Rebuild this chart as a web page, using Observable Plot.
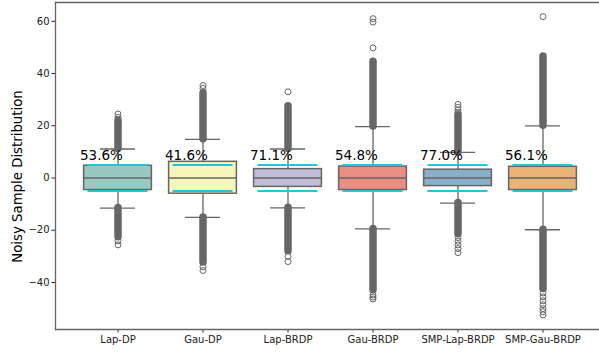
<!DOCTYPE html>
<html>
<head>
<meta charset="utf-8">
<script src="https://cdn.jsdelivr.net/npm/d3@7"></script>
<script src="https://cdn.jsdelivr.net/npm/@observablehq/plot@0.6"></script>
<style>
  html, body { margin: 0; padding: 0; background: #fff; overflow: hidden; }
</style>
</head>
<body>
<div id="chart"></div>
<script>
// Mechanisms compared
const mechanisms = ["Lap-DP", "Gau-DP", "Lap-BRDP", "Gau-BRDP", "SMP-Lap-BRDP", "SMP-Gau-BRDP"];
const boxColors = ["#96cac1", "#f6f6bc", "#c1bdd6", "#ea8e83", "#8aafc8", "#eab375"];

// Box summaries of the noisy samples
const q1 = [-4.6, -6.0, -3.4, -4.6, -3.1, -4.6];
const medians = [0, 0, 0, 0, 0, 0];
const q3 = [4.7, 6.2, 3.4, 4.4, 3.2, 4.3];
const whiskerLow = [-11.5, -15.1, -11.4, -19.5, -9.6, -19.8];
const whiskerHigh = [11.1, 14.8, 11.1, 19.7, 9.8, 20.0];

// Outliers packed so tightly that they form a continuous run, per side
const denseUpperEnd = [21.9, 32.5, 27.5, 44.5, 24.0, 46.5];
const denseLowerEnd = [-22.7, -32.3, -28.0, -43.0, -21.5, -42.5];

// Isolated outliers beyond those runs
const sparseOutliers = [
  [23.2, 24.5, -24.0, -25.6],
  [34.3, 35.4, -34.0, -35.4],
  [33.0, -30.0, -32.0],
  [49.8, 59.7, 61.0, -44.8, -45.6, -46.3],
  [25.0, 26.0, 27.1, 28.2, -22.8, -24.2, -25.6, -27.0, -28.6],
  [61.8, -44.0, -45.5, -47.0, -48.5, -50.0, -51.2, -52.4]
];

// Share of samples inside the ±5 bound
const withinRate = [53.6, 41.6, 71.1, 54.8, 77.0, 56.1];
const bounds = [-5, 5];

const yTicks = [-40, -20, 0, 20, 40, 60];
const yDomain = [-58, 67.2];

const rows = mechanisms.map((m, i) => ({
  m, color: boxColors[i], q1: q1[i], med: medians[i], q3: q3[i],
  lo: whiskerLow[i], hi: whiskerHigh[i],
  upEnd: denseUpperEnd[i], lowEnd: denseLowerEnd[i], rate: withinRate[i]
}));
const fliers = mechanisms.flatMap((m, i) => sparseOutliers[i].map(v => ({m, v})));
const boundRows = mechanisms.flatMap(m => bounds.map(b => ({m, b})));

const width = 599, height = 356;
const marginLeft = 55;
// the axes run a little past the right edge of the figure
const xRange = [marginLeft, 604.5];
const padOuter = 0.195;
const step = (xRange[1] - xRange[0]) / (mechanisms.length + 2 * padOuter);
const gray = "#666666";

const chart = Plot.plot({
  width, height,
  marginTop: 2, marginBottom: 27, marginLeft, marginRight: 0,
  style: {fontFamily: "DejaVu Sans, sans-serif", fontSize: "10px", color: "#222", background: "#fff"},
  x: {domain: mechanisms, range: xRange, paddingInner: 0, paddingOuter: padOuter, label: null, tickSize: 3.5, tickPadding: 3},
  y: {domain: yDomain, ticks: yTicks, label: null, tickSize: 3.5, tickPadding: 2.5,
      tickFormat: d => d < 0 ? "\u2212" + Math.abs(d) : String(d)},
  marks: [
    Plot.frame({anchor: "left", stroke: gray, strokeWidth: 1.3}),
    Plot.frame({anchor: "top", stroke: gray, strokeWidth: 1.3}),
    Plot.frame({anchor: "bottom", stroke: gray, strokeWidth: 1.3}),
    // whiskers and caps
    Plot.ruleX(rows, {x: "m", y1: "lo", y2: "q1", stroke: gray, strokeWidth: 1.3}),
    Plot.ruleX(rows, {x: "m", y1: "q3", y2: "hi", stroke: gray, strokeWidth: 1.3}),
    Plot.tickY(rows, {x: "m", y: "lo", stroke: gray, strokeWidth: 1.3, inset: step * 0.29}),
    Plot.tickY(rows, {x: "m", y: "hi", stroke: gray, strokeWidth: 1.3, inset: step * 0.29}),
    // dense outlier runs
    Plot.ruleX(rows, {x: "m", y1: "hi", y2: "upEnd", stroke: gray, strokeWidth: 7.5, strokeLinecap: "round"}),
    Plot.ruleX(rows, {x: "m", y1: "lo", y2: "lowEnd", stroke: gray, strokeWidth: 7.5, strokeLinecap: "round"}),
    // isolated outliers
    Plot.dot(fliers, {x: "m", y: "v", r: 3, stroke: gray, fill: "none", strokeWidth: 1}),
    // boxes and medians
    Plot.barY(rows, {x: "m", y1: "q1", y2: "q3", fill: "color", stroke: gray, strokeWidth: 1.5,
                     insetLeft: step * 0.1, insetRight: step * 0.1}),
    Plot.tickY(rows, {x: "m", y: "med", stroke: gray, strokeWidth: 1.5, inset: step * 0.1}),
    // ±5 bound lines
    Plot.tickY(boundRows, {x: "m", y: "b", stroke: "#1fc6dc", strokeWidth: 2, inset: step * 0.145}),
    // percentage labels
    Plot.text(rows, {x: "m", y: 7, text: d => d.rate.toFixed(1) + "%", textAnchor: "start",
                     lineAnchor: "bottom", dx: -38, fontSize: 13.5, fill: "#000"}),
    // y axis title
    Plot.text(["Noisy Sample Distribution"], {frameAnchor: "left", textAnchor: "middle", lineAnchor: "middle",
                     rotate: -90, dx: -38, dy: 10.5, fontSize: 13.3, fill: "#000"})
  ]
});
document.getElementById("chart").appendChild(chart);
</script>
</body>
</html>
